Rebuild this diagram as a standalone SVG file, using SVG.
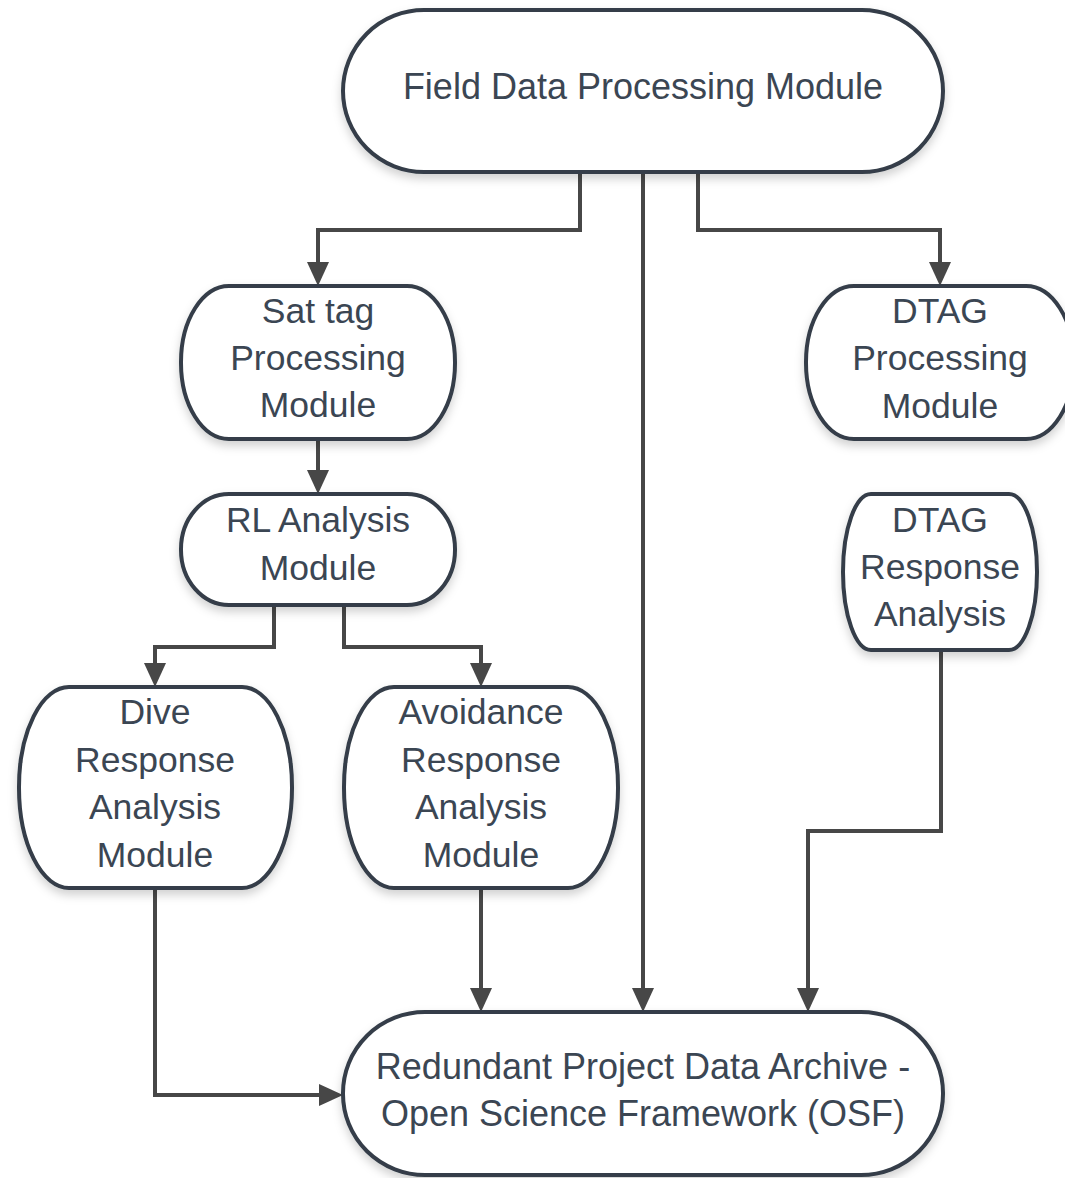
<svg xmlns="http://www.w3.org/2000/svg" width="1065" height="1178" viewBox="0 0 1065 1178">
<style>
.node{fill:#ffffff;stroke:#343e48;stroke-width:4;filter:url(#sh)}
.lbl{font-family:"Liberation Sans",Arial,sans-serif;font-size:35.5px;fill:#3b4653;text-anchor:middle}
.big{font-size:36px}
.edge{fill:none;stroke:#474747;stroke-width:4;marker-end:url(#arr)}
</style>
<defs>
<filter id="sh" x="-20%" y="-20%" width="140%" height="150%">
<feDropShadow dx="0" dy="5" stdDeviation="5" flood-color="#000" flood-opacity="0.18"/>
</filter>
<marker id="arr" markerUnits="userSpaceOnUse" markerWidth="24" markerHeight="22" refX="14" refY="11" orient="auto">
<path d="M0,0 L24,11 L0,22 Z" fill="#474747"/>
</marker>
</defs>
<rect width="1065" height="1178" fill="#ffffff"/>
<g id="connectors">
<path class="edge" d="M580,172 V230 H318 V276"/>
<path class="edge" d="M643,172 V1002"/>
<path class="edge" d="M698,172 V230 H940 V276"/>
<path class="edge" d="M318,439 V484"/>
<path class="edge" d="M274,605 V647 H155 V677"/>
<path class="edge" d="M344,605 V647 H481 V677"/>
<path class="edge" d="M481,888 V1002"/>
<path class="edge" d="M155,888 V1095 H333"/>
<path class="edge" d="M941,650 V831 H808 V1002"/>
</g>
<g id="field">
<rect class="node" x="343" y="10" width="600" height="162" rx="81" ry="81"/>
<text class="lbl big" x="643" y="99">Field Data Processing Module</text>
</g>
<g id="sattag">
<rect class="node" x="181" y="286" width="274" height="153" rx="48" ry="76"/>
<text class="lbl" x="318" y="323">Sat tag</text>
<text class="lbl" x="318" y="370">Processing</text>
<text class="lbl" x="318" y="417">Module</text>
</g>
<g id="dtagproc">
<rect class="node" x="806" y="286" width="268" height="153" rx="48" ry="76"/>
<text class="lbl" x="940" y="323">DTAG</text>
<text class="lbl" x="940" y="370">Processing</text>
<text class="lbl" x="940" y="418">Module</text>
</g>
<g id="rl">
<rect class="node" x="181" y="494" width="274" height="111" rx="48" ry="55"/>
<text class="lbl" x="318" y="532">RL Analysis</text>
<text class="lbl" x="318" y="580">Module</text>
</g>
<g id="dtagresp">
<rect class="node" x="843" y="494" width="194" height="156" rx="28" ry="78"/>
<text class="lbl" x="940" y="532">DTAG</text>
<text class="lbl" x="940" y="579">Response</text>
<text class="lbl" x="940" y="626">Analysis</text>
</g>
<g id="dive">
<rect class="node" x="19" y="687" width="273" height="201" rx="50" ry="100"/>
<text class="lbl" x="155" y="724">Dive</text>
<text class="lbl" x="155" y="772">Response</text>
<text class="lbl" x="155" y="819">Analysis</text>
<text class="lbl" x="155" y="867">Module</text>
</g>
<g id="avoid">
<rect class="node" x="344" y="687" width="274" height="201" rx="50" ry="100"/>
<text class="lbl" x="481" y="724">Avoidance</text>
<text class="lbl" x="481" y="772">Response</text>
<text class="lbl" x="481" y="819">Analysis</text>
<text class="lbl" x="481" y="867">Module</text>
</g>
<g id="archive">
<rect class="node" x="343" y="1012" width="600" height="163" rx="82" ry="81"/>
<text class="lbl big" x="643" y="1079">Redundant Project Data Archive -</text>
<text class="lbl big" x="643" y="1126">Open Science Framework (OSF)</text>
</g>
</svg>
